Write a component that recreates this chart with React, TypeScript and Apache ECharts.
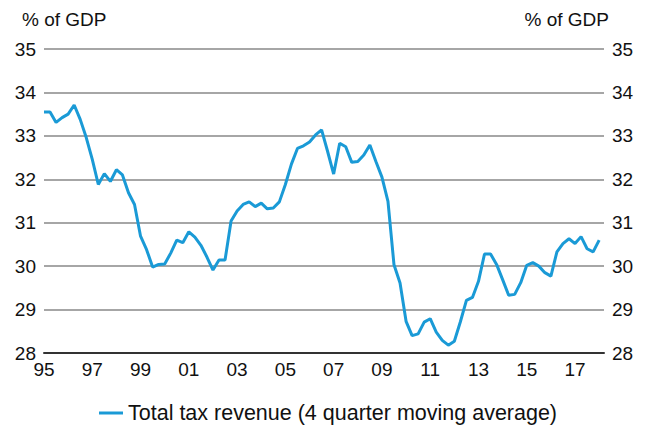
import React, { useEffect, useRef } from "react";
import * as echarts from "echarts";

const startYear = 1995;
const quarterlyValues = [
  33.55, 33.55, 33.31, 33.42, 33.5, 33.71, 33.38, 32.96, 32.46, 31.88,
  32.13, 31.95, 32.22, 32.1, 31.69, 31.42, 30.69, 30.38, 29.98, 30.04,
  30.05, 30.3, 30.6, 30.54, 30.79, 30.67, 30.48, 30.21, 29.91, 30.14,
  30.14, 31.04, 31.27, 31.42, 31.48, 31.37, 31.45, 31.32, 31.34, 31.48,
  31.88, 32.35, 32.71, 32.77, 32.86, 33.02, 33.14, 32.64, 32.12, 32.83,
  32.75, 32.39, 32.41, 32.56, 32.79, 32.41, 32.05, 31.49, 30.03, 29.61,
  28.73, 28.4, 28.44, 28.71, 28.79, 28.48, 28.29, 28.18, 28.27, 28.72,
  29.21, 29.28, 29.65, 30.28, 30.28, 30.04, 29.69, 29.33, 29.35, 29.62,
  30.02, 30.08, 30.0, 29.85, 29.77, 30.33, 30.52, 30.63, 30.52, 30.68,
  30.4, 30.33, 30.6,
];
const seriesName = "Total tax revenue (4 quarter moving average)";
const yUnit = "% of GDP";
const yTicks = [28, 29, 30, 31, 32, 33, 34, 35];

const FONT = "'Liberation Sans', Arial, sans-serif";

export default function App() {
  const ref = useRef<HTMLDivElement>(null);
  useEffect(() => {
    if (!ref.current) return;
    const chart = echarts.init(ref.current, undefined, { renderer: "svg" });
    const data = quarterlyValues.map((v, i) => [i / 4, v]);
    const yMin = yTicks[0];
    const yMax = yTicks[yTicks.length - 1];
    const yAxisCommon = {
      type: "value",
      min: yMin,
      max: yMax,
      interval: 1,
      axisLine: { show: false },
      axisTick: { show: false },
      axisLabel: { fontSize: 19, color: "#111", fontFamily: FONT, margin: 8 },
    };
    chart.setOption({
      animation: false,
      backgroundColor: "#fff",
      grid: { left: 44, right: 47, top: 49, bottom: 75, containLabel: false },
      xAxis: {
        type: "value",
        min: 0,
        max: 23.2,
        interval: 2,
        axisLine: { show: true, lineStyle: { color: "#333", width: 2 } },
        axisTick: { show: false },
        splitLine: { show: false },
        axisLabel: {
          fontSize: 19,
          color: "#111",
          fontFamily: FONT,
          margin: 7,
          showMaxLabel: false,
          formatter: (v: number) =>
            String((startYear + Math.round(v)) % 100).padStart(2, "0"),
        },
      },
      yAxis: [
        {
          ...yAxisCommon,
          position: "left",
          splitLine: { show: true, lineStyle: { color: "#888", width: 1.5 } },
        },
        {
          ...yAxisCommon,
          position: "right",
          splitLine: { show: false },
        },
      ],
      legend: {
        left: 99,
        top: 402,
        padding: 0,
        icon: "rect",
        itemWidth: 24,
        itemHeight: 3,
        itemGap: 8,
        textStyle: {
          fontSize: 21.5,
          lineHeight: 22,
          color: "#111",
          fontFamily: FONT,
        },
        data: [seriesName],
      },
      graphic: [
        {
          type: "text",
          left: 22,
          top: 10,
          style: { text: yUnit, fontSize: 19, fill: "#111", fontFamily: FONT },
        },
        {
          type: "text",
          right: 42,
          top: 10,
          style: { text: yUnit, fontSize: 19, fill: "#111", fontFamily: FONT },
        },
      ],
      series: [
        {
          name: seriesName,
          type: "line",
          data,
          yAxisIndex: 0,
          showSymbol: false,
          symbol: "none",
          lineStyle: { color: "#1a9ad6", width: 3 },
          itemStyle: { color: "#1a9ad6" },
        },
      ],
    });
    return () => chart.dispose();
  }, []);
  return (
    <div
      ref={ref}
      style={{ position: "absolute", left: 0, top: 0, width: 651, height: 428 }}
    />
  );
}
